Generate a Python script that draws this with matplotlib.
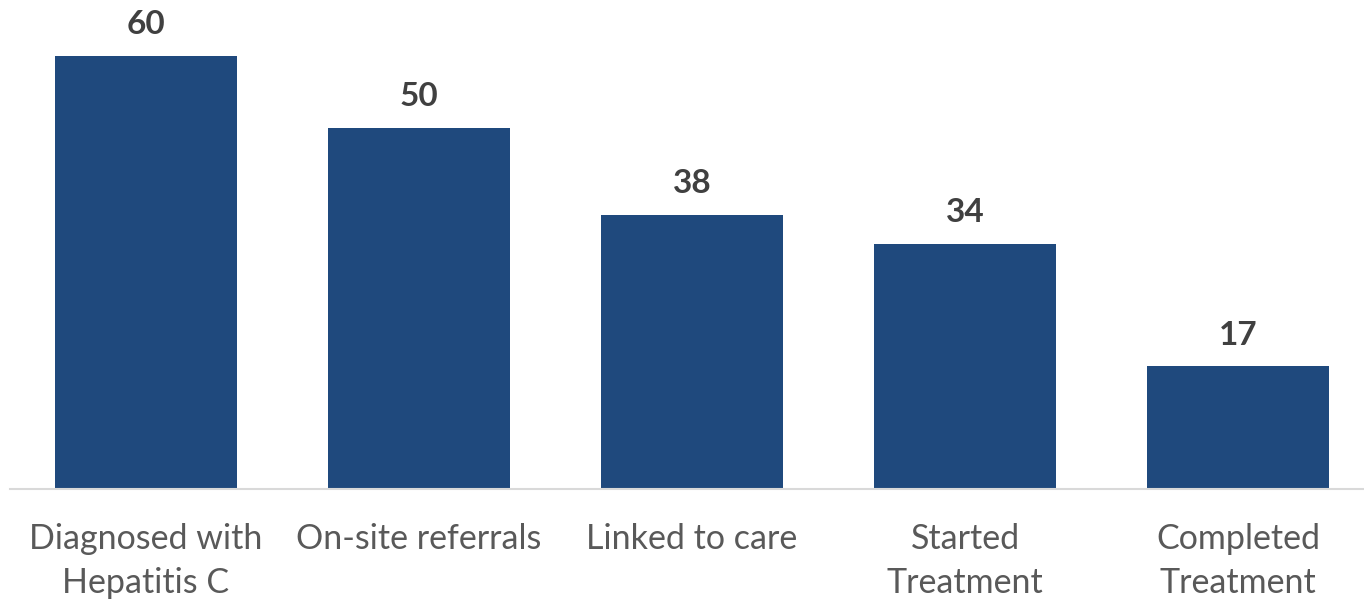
import matplotlib.pyplot as plt

# hepatitis C care cascade
stages = ['Diagnosed with\nHepatitis C', 'On-site referrals', 'Linked to care',
          'Started\nTreatment', 'Completed\nTreatment']
counts = [60, 50, 38, 34, 17]

bar_color = '#1F497D'
label_color = '#595959'
value_color = '#404040'

plt.rcParams['font.family'] = ['Lato', 'DejaVu Sans']

fig = plt.figure(figsize=(13.64, 5.99), dpi=100)
W, H = 1364, 599
base_y = 489        # baseline, pixels from top
left_px = 9.5
slot = 273          # pixels per category
ax = fig.add_axes([left_px / W, (H - base_y) / H, (W - left_px) / W, base_y / H])

x = list(range(len(stages)))
ax.bar(x, counts, width=182 / slot, color=bar_color)

ax.set_xlim(-0.5, -0.5 + (W - left_px) / slot)
ax.set_ylim(0, base_y / 7.22)

for xi, v in zip(x, counts):
    ax.annotate(str(v), (xi, v), xytext=(0, 15.5), textcoords='offset points',
                ha='center', va='baseline', fontsize=24, fontweight='bold',
                color=value_color)

ax.set_xticks(x)
ax.set_xticklabels(stages, fontsize=24.5, color=label_color, linespacing=1.45)
ax.tick_params(axis='x', length=0, pad=24.5)
ax.set_yticks([])

for side in ['top', 'right', 'left']:
    ax.spines[side].set_visible(False)
ax.spines['bottom'].set_color('#D9D9D9')
ax.spines['bottom'].set_linewidth(1.5)

fig.savefig('out.png', dpi=100)
